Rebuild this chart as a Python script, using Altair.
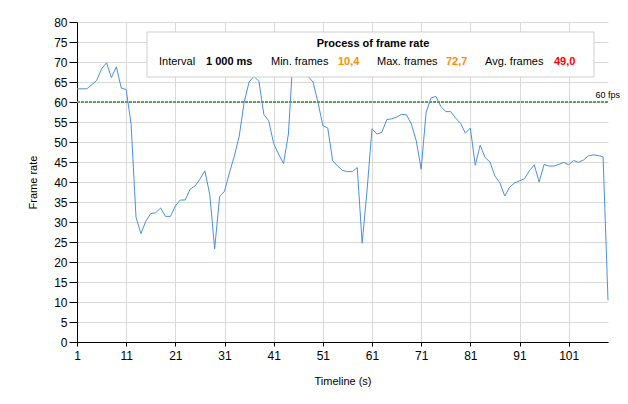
import altair as alt
import pandas as pd

# ---- data ----
seconds = list(range(1, 110))
frames = [63.3, 63.3, 63.3, 64.3, 65.4, 68.3, 69.8, 66.1, 68.8, 63.5, 63.1, 54.5,
          31.2, 27.1, 30.2, 32.1, 32.3, 33.5, 31.4, 31.4, 34.0, 35.5, 35.5, 38.2,
          39.0, 40.7, 42.8, 36.9, 23.3, 36.3, 37.7, 42.3, 46.5, 51.5, 60.0, 65.0,
          66.4, 65.2, 56.9, 55.3, 49.6, 47.0, 44.6, 52.0, 72.7, 71.0, 69.0, 66.4,
          65.0, 60.0, 54.1, 53.5, 45.3, 44.0, 42.9, 42.6, 42.6, 43.6, 24.7, 38.0,
          53.3, 52.0, 52.4, 55.6, 55.8, 56.2, 56.9, 56.8, 54.5, 50.3, 43.2, 57.4,
          61.0, 61.4, 58.9, 57.6, 57.6, 56.0, 54.7, 52.2, 53.5, 44.2, 49.2, 46.1,
          45.0, 41.5, 39.8, 36.5, 38.7, 39.8, 40.3, 40.8, 42.8, 44.3, 40.0, 44.4,
          44.0, 44.0, 44.4, 44.9, 44.3, 45.4, 44.9, 45.5, 46.5, 46.8, 46.6, 46.3,
          10.4]
x_ticks = [1, 11, 21, 31, 41, 51, 61, 71, 81, 91, 101]
y_ticks = list(range(0, 85, 5))
threshold = [60]
threshold_label = "60 fps"
legend_title = "Process of frame rate"
stat_names = ["Interval", "Min. frames", "Max. frames", "Avg. frames"]
stat_values = ["1 000 ms", "10,4", "72,7", "49,0"]

FONT = "Liberation Sans"

df = pd.DataFrame({"t": seconds, "fps": frames})
thr = pd.DataFrame({"v": threshold, "label": [threshold_label]})

x_axis = alt.Axis(values=x_ticks, title="Timeline (s)", grid=True,
                  gridColor="#d9d9d9", domainColor="black", tickColor="black",
                  tickSize=4, labelPadding=4, labelFontSize=12, labelColor="black",
                  labelFont=FONT, titleFont=FONT, titleFontSize=11,
                  titleFontWeight="normal", titleColor="black",
                  titleY=39, titleBaseline="middle", labelFlush=False,
                  labelOverlap=False)
y_axis = alt.Axis(values=y_ticks, title="Frame rate", grid=True,
                  gridColor="#d9d9d9", domainColor="black", tickColor="black",
                  tickSize=8, labelPadding=2, labelFontSize=12, labelColor="black",
                  labelFont=FONT, titleFont=FONT, titleFontSize=11,
                  titleFontWeight="normal", titleColor="black",
                  titleX=-44, titleY=160, titleAngle=-90,
                  titleAlign="center", titleBaseline="middle",
                  labelOverlap=False, labelFlush=False)
x_scale = alt.Scale(domain=[1, 109], nice=False, zero=False)
y_scale = alt.Scale(domain=[0, 80], nice=False)

line = alt.Chart(df).mark_line(color="#4a8fe7", strokeWidth=1).encode(
    x=alt.X("t:Q", scale=x_scale, axis=x_axis),
    y=alt.Y("fps:Q", scale=y_scale, axis=y_axis))

rule = alt.Chart(thr).mark_rule(color="#5f9f5f", strokeWidth=2, strokeDash=[3, 1]).encode(
    y=alt.Y("v:Q", scale=y_scale, axis=y_axis))

rule_text = alt.Chart(thr).mark_text(align="right", baseline="middle", fontSize=9,
                                     font=FONT, dy=-7, color="black").encode(
    x=alt.value(543), y=alt.Y("v:Q", scale=y_scale, axis=y_axis), text="label:N")

one = pd.DataFrame({"k": [0]})
box = alt.Chart(one).mark_rect(fill="white", stroke="#cfcfcf", strokeWidth=1).encode(
    x=alt.value(70), x2=alt.value(517), y=alt.value(10), y2=alt.value(55))


def txt(s, x, y, bold=False, color="black", align="left", size=11):
    d = pd.DataFrame({"s": [s]})
    return alt.Chart(d).mark_text(align=align, baseline="middle", font=FONT, fontSize=size,
                                  fontWeight="bold" if bold else "normal",
                                  color=color).encode(
        x=alt.value(x), y=alt.value(y), text="s:N")


row_y = 40
texts = [
    txt(legend_title, 296, 22, bold=True, align="center"),
    txt(stat_names[0], 82, row_y),
    txt(stat_values[0], 129, row_y, bold=True),
    txt(stat_names[1], 194, row_y),
    txt(stat_values[1], 261, row_y, bold=True, color="#ff8c00"),
    txt(stat_names[2], 300, row_y),
    txt(stat_values[2], 369, row_y, bold=True, color="#ff8c00"),
    txt(stat_names[3], 408, row_y),
    txt(stat_values[3], 477, row_y, bold=True, color="#ff0000"),
]

chart = alt.layer(line, rule, rule_text, box, *texts).properties(
    width=531, height=320,
    autosize=alt.AutoSizeParams(type="none"),
    padding={"left": 77, "top": 22, "right": 20, "bottom": 62},
    background="white",
).configure_view(strokeWidth=0)

chart.save("out.html", embed_options={"renderer": "svg", "actions": False})
